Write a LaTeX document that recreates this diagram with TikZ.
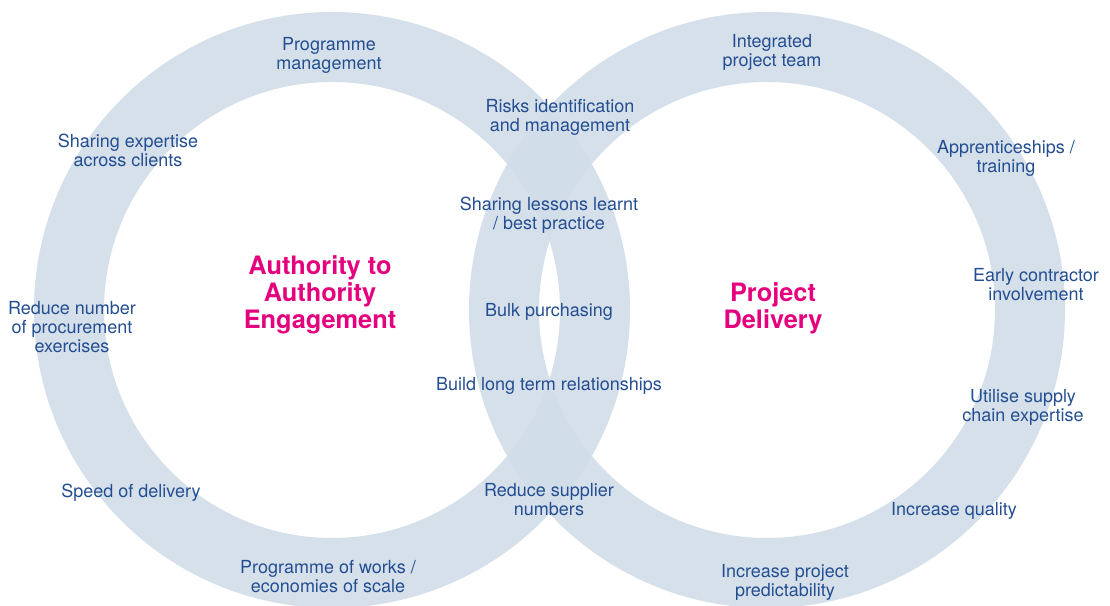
\documentclass[tikz,border=0pt]{standalone}
\usepackage{fontspec}
\setmainfont{TeX Gyre Heros}
\usepackage{tikz}
\usetikzlibrary{positioning}
\usepackage{xcolor}
\definecolor{rgring}{RGB}{209,221,233}
\definecolor{rgtext}{RGB}{35,78,145}
\definecolor{rgpink}{RGB}{229,0,125}
\tikzstyle{ring} = [fill=rgring, fill opacity=0.9, even odd rule]
\tikzstyle{benefit} = [inner sep=0pt, align=center, text=rgtext, font=\fontsize{13.5}{14.3}\selectfont]
\tikzstyle{heading} = [inner sep=0pt, align=center, text=rgpink, font=\fontsize{19}{20.3}\selectfont\bfseries]

\begin{document}
\begin{tikzpicture}[x=0.75pt, y=0.75pt]
\useasboundingbox (0,0) rectangle (1110,606);

% Rings
\fill[ring] (332,296) circle[radius=298] (332,296) circle[radius=228];
\fill[ring] (767,296) circle[radius=298] (767,296) circle[radius=228];

% Headings
\node[heading] (authority) at (320,311) {Authority to\\Authority\\Engagement};
\node[heading] (delivery) at (773,298) {Project\\Delivery};

% Left ring
\node[benefit] (progman) at (329,551) {Programme\\management};
\node[benefit] (expertise) at (128,456) {Sharing expertise\\across clients};
\node[benefit] (procure) at (72,279) {Reduce number\\of procurement\\exercises};
\node[benefit] (speed) at (131,113) {Speed of delivery};
\node[benefit] (works) at (328,29) {Programme of works /\\economies of scale};

% Overlap
\node[benefit] (risks) at (560,489) {Risks identification\\and management};
\node[benefit] (lessons) at (549,391) {Sharing lessons learnt\\/ best practice};
\node[benefit] (bulk) at (549,294) {Bulk purchasing};
\node[benefit] (relations) at (549,220) {Build long term relationships};
\node[benefit] (suppliers) at (549,106) {Reduce supplier\\numbers};

% Right ring
\node[benefit] (team) at (772,554) {Integrated\\project team};
\node[benefit] (training) at (1006,448) {Apprenticeships /\\training};
\node[benefit] (contractor) at (1036,321) {Early contractor\\involvement};
\node[benefit] (chain) at (1023,199) {Utilise supply\\chain expertise};
\node[benefit] (quality) at (954,95) {Increase quality};
\node[benefit] (predict) at (785,24) {Increase project\\predictability};
\end{tikzpicture}
\end{document}
